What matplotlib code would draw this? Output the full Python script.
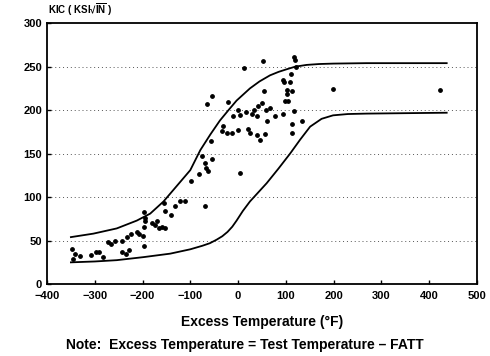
import numpy as np
import matplotlib
matplotlib.use('Agg')
import matplotlib.pyplot as plt

plt.rcParams['font.family'] = ['Liberation Sans', 'DejaVu Sans']
plt.rcParams['mathtext.fontset'] = 'custom'
plt.rcParams['mathtext.bf'] = 'Liberation Sans:bold'

# Scatter data: excess temperature (F), KIC
temp_pts = [-348, -346, -341, -332, -307, -298, -291, -282,
            -272, -265, -258, -243, -244, -235, -228, -233, -224, -212, -207, -198,
            -196, -195, -195, -197, -197,
            -180, -173, -170, -166, -160, -153,
            -155, -153, -141, -132, -121, -111,
            -99, -81, -69, -69, -67, -62, -76, -55, -57,
            4,
            -55, -65, -22, -1, 4, -11, -31, -34, -24, -13, -1,
            12, 52,
            17, 29, 33, 39, 42, 50, 59, 68, 60, 54,
            21, 25, 39, 45, 56, 77, 95,
            94, 96, 102, 103, 98, 110, 109, 112, 105,
            117, 119, 121,
            112, 112, 117, 135,
            199, 424]
kic_pts = [40, 29, 35, 32, 33, 37, 37, 31,
           48, 46, 50, 50, 37, 35, 39, 54, 58, 60, 58, 55,
           66, 72, 76, 83, 44,
           70, 68, 72, 65, 66, 64,
           93, 84, 80, 90, 95, 95,
           118, 126, 90, 139, 134, 130, 147, 144, 165,
           128,
           216, 207, 209, 200, 194, 193, 182, 176, 174, 174, 177,
           249, 256,
           198, 196, 200, 193, 205, 208, 200, 203, 188, 222,
           178, 174, 171, 166, 172, 193, 195,
           235, 232, 223, 218, 211, 241, 232, 222, 211,
           261, 258, 250,
           184, 174, 199, 187,
           224, 223]

# Upper bound curve
upper_t = [-350, -303, -254, -212, -184, -156, -128, -100, -79, -58, -38, -20, -3,
           25, 45, 67, 85, 102, 120, 144, 170, 200, 269, 437]
upper_k = [54, 58, 64, 73, 81, 95, 113, 131, 154, 172, 188, 200, 211,
           225, 233, 240, 244, 247, 250, 252, 253, 253.5, 254, 254]

# Lower bound curve
lower_t = [-350, -300, -254, -198, -142, -100, -75, -59, -45, -33, -22, -12, -3,
           10, 25, 60, 85, 109, 130, 151, 175, 199, 230, 269, 437]
lower_k = [25, 26, 27.5, 31, 35, 40, 44, 47, 51, 55, 60, 66, 73,
           84, 95, 116, 133, 150, 166, 181, 190, 194, 195.5, 196, 197]

fig = plt.figure(figsize=(4.9, 3.56), dpi=100)
ax = fig.add_axes([0.096, 0.202, 0.877, 0.733])

for yv in [50, 100, 150, 200, 250]:
    ax.axhline(yv, color='#555555', lw=0.7, ls=(0, (1, 3)), zorder=1)

ax.plot(upper_t, upper_k, color='black', lw=1.3, zorder=2)
ax.plot(lower_t, lower_k, color='black', lw=1.3, zorder=2)
ax.scatter(temp_pts, kic_pts, s=6, color='black', zorder=3)

ax.set_xlim(-400, 500)
ax.set_ylim(0, 300)
ax.set_xticks(range(-400, 501, 100))
ax.set_yticks(range(0, 301, 50))
ax.tick_params(direction='in', length=3, width=1, labelsize=8)
ax.tick_params(axis='x', pad=5)
for lab in ax.get_xticklabels() + ax.get_yticklabels():
    lab.set_fontweight('bold')
for sp in ax.spines.values():
    sp.set_linewidth(1.3)

fig.text(0.098, 0.95, 'KIC ( KSI\u221a' + r'$\overline{\mathbf{IN}}$' + ' )', fontsize=7,
         fontweight='bold', ha='left', va='bottom')
fig.text(0.535, 0.095, 'Excess Temperature (\u00b0F)', fontsize=10,
         fontweight='bold', ha='center', va='center')
fig.text(0.5, 0.03, 'Note:  Excess Temperature = Test Temperature \u2013 FATT',
         fontsize=10, fontweight='bold', ha='center', va='center')

fig.savefig('out.png', dpi=100)
